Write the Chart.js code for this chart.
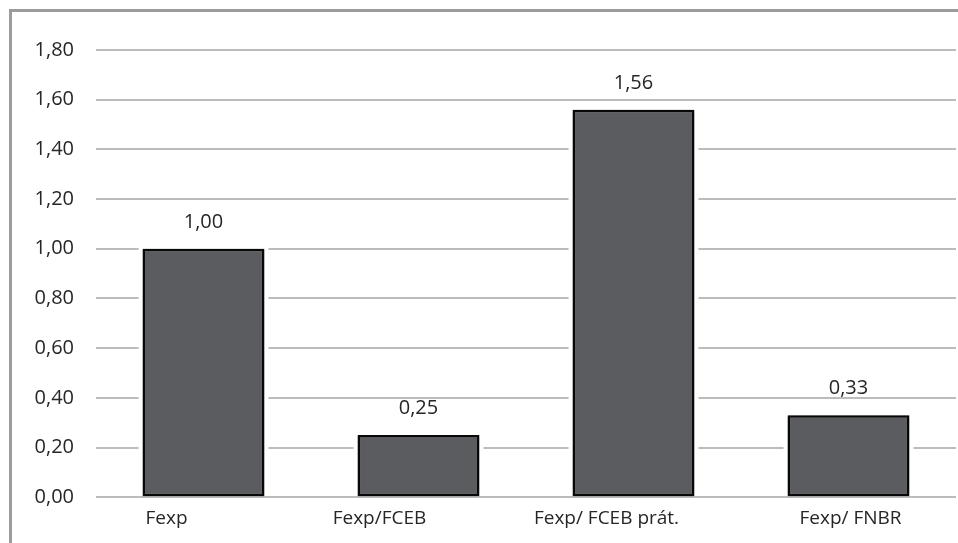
<!DOCTYPE html>
<html>
<head>
<meta charset="utf-8">
<script src="https://cdn.jsdelivr.net/npm/chart.js@4/dist/chart.umd.min.js"></script>
<style>
  html, body { margin: 0; padding: 0; background: #fff; overflow: hidden; }
  #wrap { position: relative; width: 958px; height: 543px; }
  #frame { position: absolute; left: 9px; top: 9px; width: 980px; height: 560px;
           border-left: 3px solid #9c9c9c; border-top: 3px solid #9c9c9c; box-sizing: border-box; }
  canvas { position: absolute; left: 0; top: 0; }
</style>
</head>
<body>
<div id="wrap">
  <div id="frame"></div>
  <canvas id="c" width="958" height="543"></canvas>
</div>
<script>
const categories = ["Fexp", "Fexp/FCEB", "Fexp/ FCEB prát.", "Fexp/ FNBR"];
const values = [1.00, 0.25, 1.56, 0.33];
const yTicks = [0, 0.2, 0.4, 0.6, 0.8, 1.0, 1.2, 1.4, 1.6, 1.8];

const fmt = v => v.toFixed(2).replace('.', ',');
const FONT = "'Open Sans', 'Noto Sans', sans-serif";
// horizontal nudges of the category labels, as in the original
const LABEL_NUDGE = [-37, -39, -27, 2];
const X_FONT = 19, X_PAD = 10;

const gapPlugin = {
  id: 'gap',
  beforeDatasetsDraw(chart) {
    const ctx = chart.ctx;
    const meta = chart.getDatasetMeta(0);
    ctx.save();
    ctx.fillStyle = '#ffffff';
    meta.data.forEach(b => {
      const p = b.getProps(['x', 'y', 'base', 'width'], true);
      ctx.fillRect(p.x - p.width / 2 - 4, p.y - 2, p.width + 8, p.base - p.y + 1);
    });
    ctx.restore();
  },
  beforeDatasetDraw(chart) {
    const ctx = chart.ctx;
    ctx.save();
    ctx.shadowColor = 'rgba(0,0,0,0.45)';
    ctx.shadowBlur = 4;
  },
  afterDatasetDraw(chart) {
    chart.ctx.restore();
  }
};

const labelPlugin = {
  id: 'vals',
  afterDatasetsDraw(chart) {
    const ctx = chart.ctx;
    const meta = chart.getDatasetMeta(0);
    ctx.save();
    ctx.font = "20px " + FONT;
    ctx.fillStyle = '#262626';
    ctx.textAlign = 'center';
    ctx.textBaseline = 'alphabetic';
    meta.data.forEach((b, i) => {
      const p = b.getProps(['x', 'y'], true);
      ctx.fillText(fmt(values[i]), p.x, p.y - 21);
    });
    // category labels
    const xs = chart.scales.x;
    ctx.font = X_FONT + "px " + FONT;
    ctx.textBaseline = 'top';
    categories.forEach((c, i) => {
      ctx.fillText(c, xs.getPixelForTick(i) + LABEL_NUDGE[i], chart.chartArea.bottom + X_PAD + 2);
    });
    ctx.restore();
  }
};

new Chart(document.getElementById('c'), {
  type: 'bar',
  data: {
    labels: categories,
    datasets: [{
      data: values,
      backgroundColor: '#5b5c60',
      borderColor: '#0a0a0a',
      borderWidth: 2.5,
      borderSkipped: false,
      barPercentage: 0.567,
      categoryPercentage: 1.0
    }]
  },
  options: {
    responsive: false,
    animation: false,
    devicePixelRatio: 1,
    layout: { padding: { left: 10, right: 2, top: 50, bottom: 3 } },
    plugins: { legend: { display: false }, tooltip: { enabled: false } },
    scales: {
      x: {
        grid: { display: false, drawTicks: false },
        border: { display: false },
        ticks: { color: 'rgba(0,0,0,0)', font: { family: FONT, size: X_FONT }, padding: X_PAD, maxRotation: 0 }
      },
      y: {
        min: 0, max: 1.8,
        afterFit(scale) { scale.width = 86; },
        afterBuildTicks(scale) { scale.ticks = yTicks.map(v => ({ value: v })); },
        grid: { color: '#bcbcbc', lineWidth: 2, drawTicks: false },
        border: { display: false },
        ticks: {
          color: '#262626', font: { family: FONT, size: 20 }, padding: 22,
          callback: v => fmt(v)
        }
      }
    }
  },
  plugins: [gapPlugin, labelPlugin]
});
</script>
</body>
</html>
